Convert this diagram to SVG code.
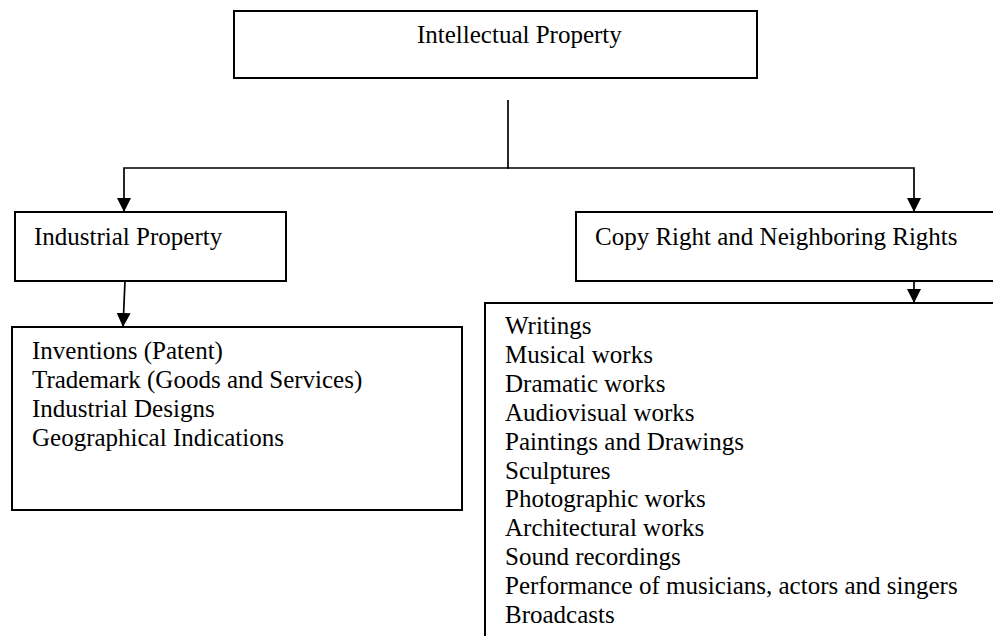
<svg xmlns="http://www.w3.org/2000/svg" width="993" height="636" viewBox="0 0 993 636">
  <style>
    .box { fill: #fff; stroke: #000; stroke-width: 2; }
    .lbl { font-family: "Liberation Serif", "Times New Roman", serif; font-size: 25px; fill: #000; }
    .wire { fill: none; stroke: #000; stroke-width: 1.7; }
  </style>
  <defs>
    <!-- solid triangular head, drawn pointing along +x and rotated to the path -->
    <marker id="arrow" viewBox="0 0 14 14" refX="14" refY="7" markerWidth="14" markerHeight="14" markerUnits="userSpaceOnUse" orient="auto">
      <path d="M0,0 L14,7 L0,14 Z" fill="#000"/>
    </marker>
  </defs>
  <rect width="993" height="636" fill="#fff"/>

  <g id="connectors">
    <line class="wire" x1="508" y1="100" x2="508" y2="168"/>
    <path class="wire" d="M509,168 H124 V212" marker-end="url(#arrow)"/>
    <path class="wire" d="M507,168 H914 V212" marker-end="url(#arrow)"/>
    <path class="wire" d="M125,281 L123,327" marker-end="url(#arrow)"/>
    <path class="wire" d="M914,281 V303" marker-end="url(#arrow)"/>
  </g>

  <g id="intellectual-property">
    <rect class="box" x="234" y="11" width="523" height="67"/>
    <text class="lbl" x="417" y="43">Intellectual Property</text>
  </g>

  <g id="industrial-property">
    <rect class="box" x="15" y="212" width="271" height="69"/>
    <text class="lbl" x="34" y="245">Industrial Property</text>
  </g>

  <g id="copy-right">
    <rect class="box" x="576" y="212" width="430" height="69"/>
    <text class="lbl" x="595" y="245">Copy Right and Neighboring Rights</text>
  </g>

  <g id="industrial-list">
    <rect class="box" x="12" y="327" width="450" height="183"/>
    <text class="lbl" x="32" y="359">Inventions (Patent)</text>
    <text class="lbl" x="32" y="388">Trademark (Goods and Services)</text>
    <text class="lbl" x="32" y="417">Industrial Designs</text>
    <text class="lbl" x="32" y="446">Geographical Indications</text>
  </g>

  <g id="copyright-list">
    <rect class="box" x="485" y="303" width="520" height="345"/>
    <text class="lbl" x="505" y="334">Writings</text>
    <text class="lbl" x="505" y="363">Musical works</text>
    <text class="lbl" x="505" y="392">Dramatic works</text>
    <text class="lbl" x="505" y="421">Audiovisual works</text>
    <text class="lbl" x="505" y="450">Paintings and Drawings</text>
    <text class="lbl" x="505" y="479">Sculptures</text>
    <text class="lbl" x="505" y="507">Photographic works</text>
    <text class="lbl" x="505" y="536">Architectural works</text>
    <text class="lbl" x="505" y="565">Sound recordings</text>
    <text class="lbl" x="505" y="594">Performance of musicians, actors and singers</text>
    <text class="lbl" x="505" y="623">Broadcasts</text>
  </g>
</svg>
